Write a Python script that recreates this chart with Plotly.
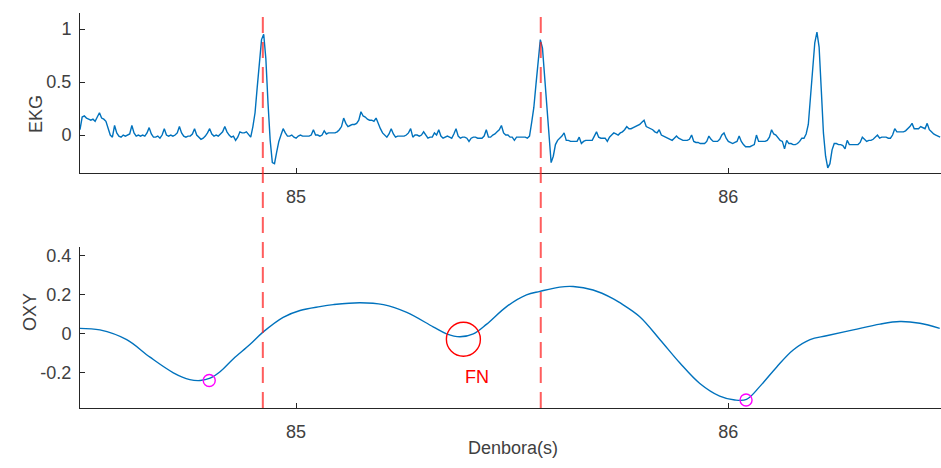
import numpy as np
import plotly.graph_objects as go

# ---------------- data ----------------
ekg_t0 = 84.5
ekg_dt = 0.005
ekg = [
    0.05, 0.17, 0.18, 0.16, 0.15, 0.14, 0.15, 0.13, 0.17, 0.21, 0.16, 0.15, 0.13, 0.07, 0.0, -0.02, 0.09, 0.02, -0.01, -0.02,
    0.0, -0.01, 0.0, 0.01, 0.09, 0.02, -0.01, 0.0, -0.01, 0.0, -0.01, 0.02, 0.07, 0.01, -0.02, -0.02, -0.01, -0.03, 0.0, 0.06,
    0.0, -0.01, 0.0, -0.01, 0.0, 0.02, 0.08, 0.02, -0.01, -0.02, -0.01, -0.01, 0.01, 0.06, 0.0, -0.02, -0.04, -0.03, -0.01, 0.02,
    0.06, 0.01, -0.01, 0.0, -0.01, 0.01, 0.03, 0.08, 0.03, 0.0, -0.02, -0.01, -0.05, -0.02, 0.03, 0.02, 0.02, 0.03, 0.0, -0.02,
    0.08, 0.21, 0.45, 0.7, 0.9, 0.95, 0.72, 0.3, -0.05, -0.26, -0.27, -0.16, -0.06, 0.0, 0.06, 0.02, -0.01, -0.01, 0.0, -0.02,
    -0.03, -0.01, 0.0, -0.01, -0.01, -0.01, -0.01, 0.0, 0.05, 0.0, 0.0, -0.01, 0.0, 0.04, 0.01, 0.02, 0.02, 0.02, 0.02, 0.03,
    0.05, 0.08, 0.16, 0.11, 0.08, 0.09, 0.1, 0.1, 0.11, 0.14, 0.22, 0.18, 0.17, 0.15, 0.14, 0.14, 0.13, 0.16, 0.1, 0.06,
    0.02, 0.0, -0.02, 0.01, 0.06, 0.01, -0.02, -0.01, -0.01, -0.01, -0.01, 0.0, 0.02, 0.06, -0.02, 0.0, 0.0, -0.01, 0.0, 0.03,
    0.0, -0.03, -0.02, -0.02, 0.02, 0.0, 0.05, -0.01, -0.03, -0.02, -0.01, -0.02, -0.03, 0.01, 0.06, -0.01, -0.03, -0.02, -0.02, -0.03,
    -0.06, -0.03, -0.02, -0.02, -0.03, -0.03, -0.03, -0.01, 0.05, -0.02, -0.02, 0.0, 0.01, 0.03, 0.05, 0.09, 0.02, 0.0, 0.0, -0.02,
    -0.02, -0.05, -0.02, -0.02, -0.02, -0.02, -0.02, -0.03, -0.01, 0.12, 0.26, 0.48, 0.72, 0.9, 0.82, 0.55, 0.24, -0.08, -0.26, -0.2,
    -0.09, -0.05, -0.03, -0.01, 0.02, -0.05, -0.05, -0.06, -0.06, -0.06, -0.06, -0.02, -0.08, -0.06, -0.05, -0.05, -0.05, -0.05, -0.01, 0.03,
    -0.02, -0.03, -0.03, -0.03, -0.06, -0.02, 0.0, 0.02, 0.01, 0.0, 0.02, 0.03, 0.05, 0.08, 0.06, 0.06, 0.07, 0.08, 0.09, 0.1,
    0.12, 0.14, 0.08, 0.07, 0.06, 0.05, 0.03, 0.02, 0.05, 0.0, -0.01, -0.02, -0.03, -0.04, -0.05, -0.03, -0.01, -0.03, -0.04, -0.05,
    -0.05, -0.05, -0.04, 0.0, -0.06, -0.07, -0.07, -0.08, -0.08, -0.08, -0.06, -0.01, -0.04, -0.06, -0.06, -0.06, -0.04, 0.0, 0.02, -0.03,
    -0.06, -0.07, -0.08, -0.07, -0.06, -0.01, -0.06, -0.09, -0.11, -0.11, -0.11, -0.1, -0.09, 0.0, -0.06, -0.06, -0.06, -0.06, -0.05, -0.02,
    0.05, 0.01, 0.0, -0.03, -0.05, -0.06, -0.13, -0.05, -0.08, -0.08, -0.09, -0.09, -0.08, -0.06, -0.03, -0.03, 0.01, 0.1, 0.36, 0.62,
    0.87, 0.97, 0.83, 0.43, 0.02, -0.2, -0.31, -0.27, -0.14, -0.08, -0.08, -0.09, -0.09, -0.1, -0.13, -0.05, -0.09, -0.09, -0.09, -0.09,
    -0.09, -0.07, -0.02, -0.04, -0.06, -0.05, -0.05, -0.04, -0.02, 0.0, -0.03, -0.02, -0.02, -0.02, -0.03, -0.03, 0.0, 0.06, 0.03, 0.03,
    0.03, 0.03, 0.04, 0.06, 0.08, 0.11, 0.06, 0.06, 0.06, 0.08, 0.07, 0.06, 0.11, 0.05, 0.03, 0.01, 0.0, -0.01, -0.02,
]
ekg_time = ekg_t0 + ekg_dt * np.arange(len(ekg))

oxy_time = [84.500, 84.546, 84.608, 84.662, 84.716, 84.754, 84.778, 84.801, 84.824, 84.855,
            84.893, 84.924, 84.970, 85.009, 85.055, 85.086, 85.148, 85.202, 85.256, 85.317,
            85.348, 85.379, 85.410, 85.441, 85.487, 85.533, 85.564, 85.610, 85.641, 85.687,
            85.734, 85.749, 85.795, 85.842, 85.888, 85.934, 85.980, 86.015, 86.042, 86.073,
            86.112, 86.150, 86.189, 86.227, 86.289, 86.351, 86.397, 86.443, 86.489]
oxy = [0.028, 0.02, -0.03, -0.12, -0.20, -0.235, -0.24, -0.228, -0.195, -0.128,
       -0.055, 0.01, 0.085, 0.12, 0.14, 0.15, 0.16, 0.15, 0.11, 0.036,
       0.0, -0.015, 0.0, 0.05, 0.14, 0.2, 0.218, 0.24, 0.243, 0.225,
       0.18, 0.16, 0.088, -0.03, -0.15, -0.255, -0.32, -0.34, -0.337, -0.27,
       -0.17, -0.083, -0.03, -0.01, 0.02, 0.05, 0.063, 0.054, 0.028]

r_peak_times = [84.923, 85.566]
min_times = [84.799, 86.041]
min_values = [-0.24, -0.34]
fn_times = [85.387]
fn_values = [-0.028]
fn_text = "FN"
fn_text_pos = (85.418, -0.22)

top_ticks = [0, 0.5, 1]
top_ticktext = ["0", "0.5", "1"]
bot_ticks = [-0.2, 0, 0.2, 0.4]
bot_ticktext = ["-0.2", "0", "0.2", "0.4"]
x_ticks = [85, 86]
x_ticktext = ["85", "86"]

# ---------------- style ----------------
W, H = 941, 468
BLUE = "#0072BD"
AX = "#262626"
TXT = "#404040"
FONT = "Liberation Sans, Arial, sans-serif"
FS = 18

x_dom = [80 / W, 1.0]
top_dom = [(H - 173) / H, (H - 13) / H]
bot_dom = [(H - 408) / H, (H - 247) / H]
x_range = [84.5, 86.492]

fig = go.Figure()
fig.add_trace(go.Scatter(x=ekg_time, y=ekg, mode="lines",
                         line=dict(color=BLUE, width=1.4), xaxis="x", yaxis="y",
                         showlegend=False, hoverinfo="skip"))
fig.add_trace(go.Scatter(x=oxy_time, y=oxy, mode="lines",
                         line=dict(color=BLUE, width=1.4, shape="spline", smoothing=1.0),
                         xaxis="x2", yaxis="y2", showlegend=False, hoverinfo="skip"))
fig.add_trace(go.Scatter(x=min_times, y=min_values, mode="markers",
                         marker=dict(symbol="circle-open", size=12, color="#FF00FF",
                                     line=dict(width=1.4, color="#FF00FF")),
                         xaxis="x2", yaxis="y2", showlegend=False, cliponaxis=False))
fig.add_trace(go.Scatter(x=fn_times, y=fn_values, mode="markers",
                         marker=dict(symbol="circle-open", size=34, color="#FF0000",
                                     line=dict(width=1.4, color="#FF0000")),
                         xaxis="x2", yaxis="y2", showlegend=False, cliponaxis=False))

for t in r_peak_times:
    fig.add_shape(type="line", xref="x", yref="paper", x0=t, x1=t,
                  y0=bot_dom[0], y1=top_dom[1],
                  line=dict(color="rgba(255,30,30,0.72)", width=2, dash="16px,9px"))

axis_common = dict(showline=True, linecolor=AX, linewidth=1, mirror=False,
                   ticks="inside", ticklen=5, tickwidth=1, tickcolor=AX,
                   showgrid=False, zeroline=False,
                   tickfont=dict(family=FONT, size=FS, color=TXT))

fig.update_layout(
    width=W, height=H, margin=dict(l=0, r=0, t=0, b=0),
    paper_bgcolor="white", plot_bgcolor="white",
    font=dict(family=FONT, size=FS, color=TXT),
    xaxis=dict(domain=x_dom, range=x_range, anchor="y", tickvals=x_ticks,
               ticktext=x_ticktext, ticklabelstandoff=7, **axis_common),
    yaxis=dict(domain=top_dom, range=[-0.358, 1.151], anchor="x", tickvals=top_ticks,
               ticktext=top_ticktext, ticklabelstandoff=4, **axis_common),
    xaxis2=dict(domain=x_dom, range=x_range, anchor="y2", tickvals=x_ticks,
                ticktext=x_ticktext, ticklabelstandoff=7, **axis_common),
    yaxis2=dict(domain=bot_dom, range=[-0.381, 0.446], anchor="x2", tickvals=bot_ticks,
                ticktext=bot_ticktext, ticklabelstandoff=4, **axis_common),
    annotations=[
        dict(text="EKG", x=24 / W, y=(H - 93) / H, xref="paper", yref="paper",
             textangle=-90, showarrow=False, font=dict(family=FONT, size=FS, color=TXT)),
        dict(text="OXY", x=18 / W, y=(H - 333) / H, xref="paper", yref="paper",
             textangle=-90, showarrow=False, font=dict(family=FONT, size=FS, color=TXT)),
        dict(text="Denbora(s)", x=513 / W, y=(H - 460) / H, xref="paper", yref="paper",
             showarrow=False, font=dict(family=FONT, size=FS, color=TXT)),
        dict(text=fn_text, x=fn_text_pos[0], y=fn_text_pos[1], xref="x2", yref="y2",
             showarrow=False, font=dict(family=FONT, size=FS, color="#FF0000")),
    ],
)

fig.write_html("out.html")
